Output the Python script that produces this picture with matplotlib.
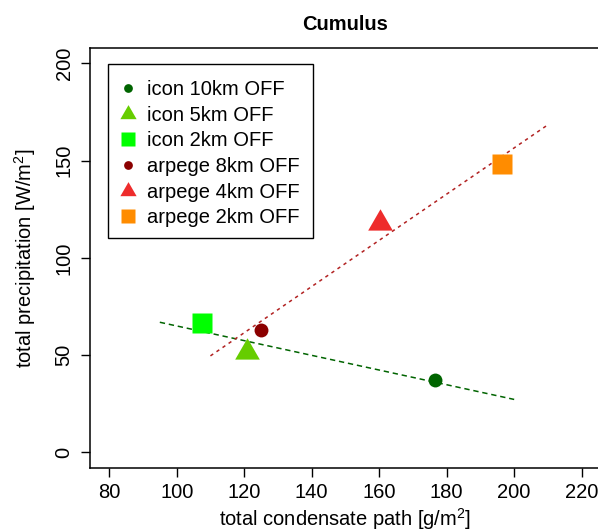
import numpy as np
import matplotlib
matplotlib.use("Agg")
import matplotlib.pyplot as plt
from matplotlib.lines import Line2D
from matplotlib.patches import Rectangle

plt.rcParams['font.family'] = ['Liberation Sans', 'DejaVu Sans']
plt.rcParams['mathtext.fontset'] = 'custom'
plt.rcParams['mathtext.rm'] = 'Liberation Sans'
plt.rcParams['mathtext.default'] = 'regular'

# condensate path [g/m2] and precipitation [W/m2] per run
labels = ["icon 10km OFF", "icon 5km OFF", "icon 2km OFF",
          "arpege 8km OFF", "arpege 4km OFF", "arpege 2km OFF"]
cond_path = [176.4, 120.7, 107.6, 125, 160.1, 196.5]
precip = [37.2, 51.5, 66.7, 62.9, 118, 148]
colors = ["#006400", "#66CD00", "#00FF00", "#8B0000", "#EE2C2C", "#FF8C00"]

# triangle centred on its centroid (like R's pch 17)
tri = [(0, 1), (-0.866, -0.5), (0.866, -0.5), (0, 1)]
shapes = ["o", tri, "s", "o", tri, "s"]
sizes = [10, 20.5, 13.7, 10, 20.5, 13.7]
leg_sizes = [6.3, 13.5, 9.4, 6.3, 13.5, 9.4]

fig = plt.figure(figsize=(5.98, 5.31), dpi=100)
ax = fig.add_axes([0.151, 0.1188, 0.8533, 0.7913])

# linear fits for each model
icon_x, icon_y = np.array(cond_path[:3]), np.array(precip[:3])
arp_x, arp_y = np.array(cond_path[3:]), np.array(precip[3:])
k1, b1 = np.polyfit(icon_x, icon_y, 1)
k2, b2 = np.polyfit(arp_x, arp_y, 1)
xs1 = np.array([95, 200])
xs2 = np.array([110, 210])
ax.plot(xs1, k1 * xs1 + b1, color="#006400", lw=1.1, dashes=(3.5, 2.5), zorder=2)
ax.plot(xs2, k2 * xs2 + b2, color="#B22222", lw=1.1, dashes=(2.2, 2.6), zorder=2)

for x, y, c, m, s in zip(cond_path, precip, colors, shapes, sizes):
    ax.plot(x, y, marker=m, color=c, ms=s, mec="none", ls="none", zorder=3)

ax.set_xlim(80 - 5.6, 220 + 5.6)
ax.set_ylim(-8, 208)
ax.set_xticks(np.arange(80, 221, 20))
ax.set_yticks(np.arange(0, 201, 50))
ax.tick_params(labelsize=14.5, length=6.5, width=1.0, colors="black")
ax.tick_params(axis="x", pad=4)
ax.tick_params(axis="y", pad=5.5)
for lab in ax.get_yticklabels():
    lab.set_rotation(90)
    lab.set_va("center")
for sp in ax.spines.values():
    sp.set_linewidth(1.1)

ax.set_xlabel("total condensate path [g/m$^{2}$]", fontsize=14.5, labelpad=3)
ax.set_ylabel("total precipitation [W/m$^{2}$]", fontsize=14.5, labelpad=12)
ax.set_title("Cumulus", fontsize=14.5, fontweight="bold", pad=13)

handles = [Line2D([], [], marker=m, color=c, ms=s, mec="none", ls="none")
           for c, m, s in zip(colors, shapes, leg_sizes)]
leg = ax.legend(handles, labels, loc="upper left", bbox_to_anchor=(0.0535, 0.923),
                borderaxespad=0, borderpad=0, fontsize=14.5, frameon=False,
                handlelength=1.0, handletextpad=0.45, labelspacing=0.33)
ax.add_patch(Rectangle((0.0353, 0.5471), 0.4005, 0.4141, transform=ax.transAxes,
                       fill=False, edgecolor="black", lw=1.0, zorder=4))

fig.savefig("out.png", dpi=100)
